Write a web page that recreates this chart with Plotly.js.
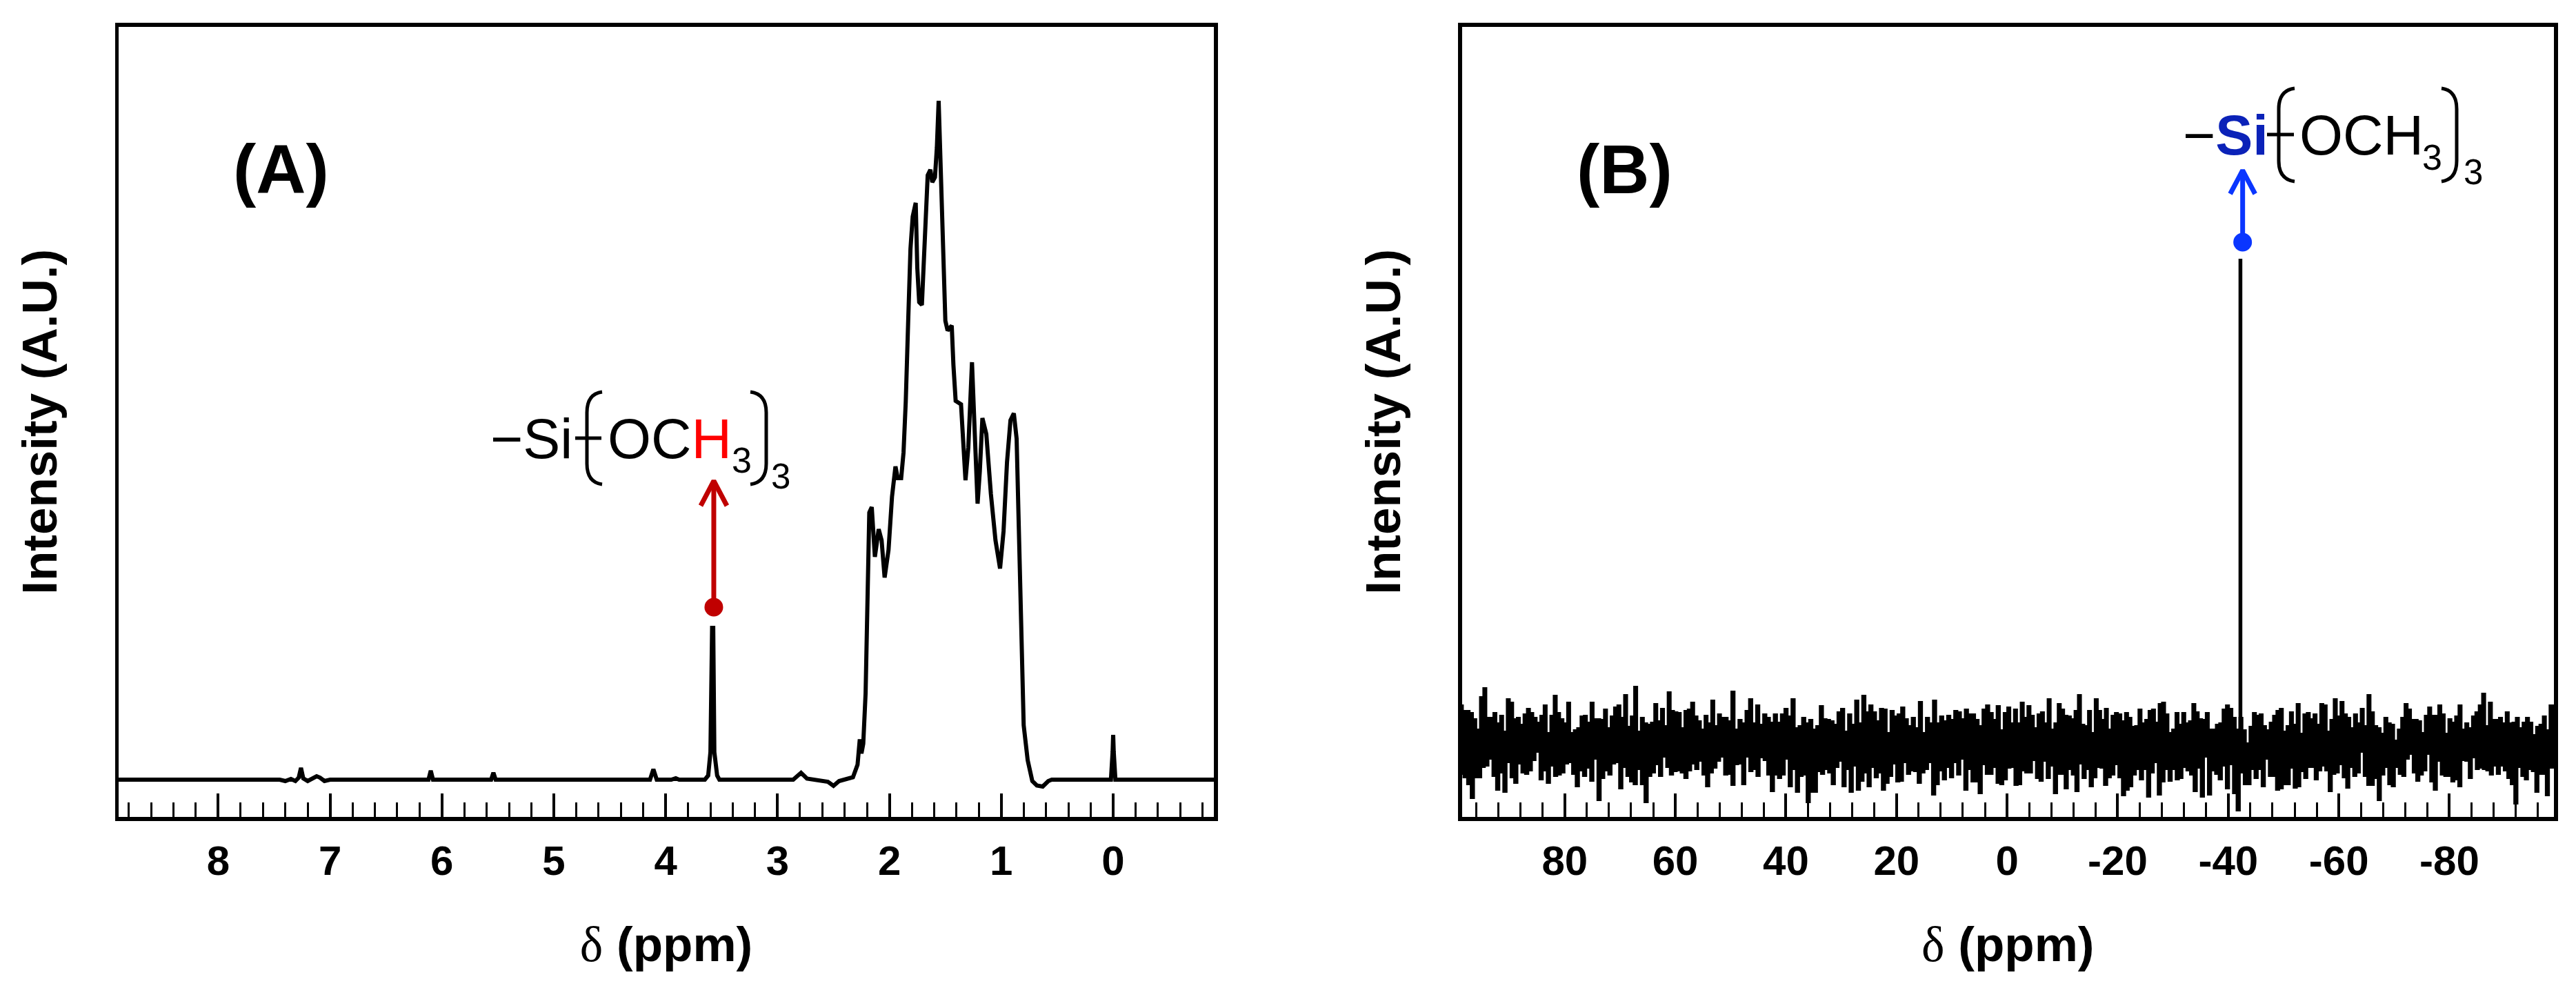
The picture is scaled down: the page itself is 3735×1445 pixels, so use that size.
<!DOCTYPE html>
<html><head><meta charset="utf-8">
<script src="https://cdn.plot.ly/plotly-3.0.1.min.js"></script>
<style>html,body{margin:0;padding:0;background:#fff}#c{width:3735px;height:1445px}</style></head>
<body><div id="c"></div><script>
const W=3735,H=1445;
// Panel A: 1H spectrum
const ppmA=[8.91,7.45,7.40,7.35,7.31,7.28,7.26,7.24,7.20,7.15,7.12,7.09,7.05,7.0,6.12,6.10,6.08,5.56,5.54,5.52,4.14,4.11,4.08,3.95,3.91,3.88,3.65,3.62,3.60,3.585,3.575,3.565,3.54,3.52,
2.90,2.86,2.79,2.737,2.55,2.50,2.45,2.326,2.285,2.265,2.25,2.234,2.213,2.193,2.18,2.158,2.13,2.096,2.07,2.043,2.008,1.977,1.946,1.926,1.895,1.874,1.854,1.833,1.812,1.792,1.765,1.751,1.734,1.71,1.69,1.658,1.634,1.617,1.593,1.576,1.56,1.541,1.521,1.50,1.48,1.443,1.428,1.408,1.36,1.34,1.32,1.295,1.262,1.237,1.212,1.192,1.169,1.134,1.093,1.052,1.011,0.98,0.949,0.918,0.888,0.863,0.847,0.83,0.816,0.80,0.764,0.723,0.682,0.63,0.58,0.549,0.086,0.02,0.005,0,-0.005,-0.02,-0.92];
const intA=[0,0,-2,1,-2,3,17,2,-2,2,5,3,-2,0,0,13,0,0,10,0,0,15,0,0,2,0,0,6,40,220,220,40,6,0,
0,0,10,1.5,-3,-9,-2,3.5,21.6,58.5,38,52,125,259,387,395,323,363,347,293,333,410,454,437,437,474,548,661,769,816,836,742,692,688,755,876,884,866,873,916,984,896,762,665,651,658,601,549,544,494,434,481,605,501,400,447,524,501,414,347,306,360,460,521,531,494,393,293,166,79,28,-2,-8.5,-10,-2,0,0,0,40,65,40,0,0];
// Panel B: 29Si spectrum, upper and lower edge of the noise band per stretch
const segPpm=[99,49.9,0,-49.9,-99.3];
const top1=[58,50,50,47,38,23,70,83,40,40,47,32,43,20,67,62,38,40,30,45,53,47,40,33,43,58,18,43,72,47,38,32,62,18,22,25,42,43,33,62,38,38,37,52,25,42,55,58,40,73,27,42,85,20,40,32,30,33,60,35,53,28,77,50,48,47,25,50,52,62,42,35,23,43,32,65,28,45,40,40,35];
const bot1=[-42,-42,-47,-57,-77,-47,-47,-32,-30,-20,-45,-65,-40,-68,-25,-47,-55,-27,-40,-42,-37,-22,-10,-50,-37,-55,-30,-45,-43,-40,-27,-25,-42,-60,-37,-45,-33,-52,-20,-80,-48,-37,-43,-27,-25,-63,-32,-45,-53,-57,-35,-57,-83,-45,-40,-28,-45,-17,-32,-43,-38,-37,-40,-48,-37,-27,-35,-23,-43,-60,-40,-33,-23,-17,-43];
const top2=[78,23,37,32,50,67,32,58,30,45,40,33,45,33,45,53,42,67,25,28,40,32,37,23,28,57,38,37,35,30,48,53,20,45,30,65,32,72,48,58,48,35,53,52,18,50,42,45,55,38,28,40,25,63,18,40,32,65,32,42,35,43,37,50,48,38,52,45,45,37,28,52,58,47,37,57,22,47];
const bot2=[-42,-58,-28,-27,-57,-17,-38,-35,-45,-18,-22,-43,-67,-43,-48,-43,-20,-60,-35,-68,-45,-43,-83,-68,-68,-38,-42,-35,-40,-57,-32,-23,-60,-35,-68,-30,-65,-52,-40,-60,-32,-47,-40,-65,-55,-45,-27,-53,-52,-25,-42,-37,-38,-55,-40,-35,-25,-72,-57,-37,-50,-32,-47,-25,-43,-20,-65,-35,-53,-53,-70,-28,-42,-42,-32,-55,-57];
const top3=[55,32,52,32,62,40,57,43,25,45,48,32,67,23,32,60,52,43,42,38,50,73,30,28,50,18,67,50,37,53,23,43,47,45,35,47,40,27,28,52,32,37,50,52,33,60,62,45,18,23,47,30,47,32,35,60,48,38,37,47,23,23,30,32,52,58,53,40,23,40,22,3,27,47,43,45,28,22,33,43,50,53];
const bot3=[-50,-33,-32,-58,-57,-37,-40,-40,-22,-48,-52,-23,-48,-30,-70,-42,-42,-63,-35,-43,-67,-27,-48,-35,-60,-47,-32,-33,-58,-47,-43,-28,-47,-73,-65,-60,-43,-35,-50,-35,-75,-40,-25,-72,-53,-35,-52,-35,-50,-48,-32,-37,-43,-67,-33,-75,-17,-72,-37,-42,-50,-30,-63,-28,-70,-95,-40,-57,-57,-35,-48,-35,-60,-20,-45,-45,-65];
const top4=[20,28,48,30,60,17,45,47,38,45,30,60,58,20,37,67,42,63,45,40,25,45,32,53,28,73,48,28,25,17,40,32,30,7,23,40,60,52,37,37,35,18,43,55,43,43,58,45,17,38,33,42,58,23,32,25,42,48,58,75,28,62,37,37,40,32,48,32,33,40,25,33,40,33,15,27,30,42,22,58,58];
const bot4=[-63,-57,-57,-33,-62,-60,-38,-48,-32,-32,-50,-37,-30,-37,-67,-42,-40,-28,-47,-62,-32,-45,-40,-10,-45,-58,-58,-48,-80,-43,-32,-57,-60,-32,-42,-45,-20,-13,-40,-52,-43,-37,-13,-53,-65,-23,-43,-45,-45,-53,-50,-60,-22,-23,-48,-18,-35,-33,-35,-37,-43,-30,-42,-30,-37,-48,-57,-85,-32,-45,-50,-35,-38,-68,-42,-42,-73,-33];
const peakPpmB=[-42.2,-42.2];
const peakIntB=[0,705];
const dotA=[3.57,250], dotB=[-42.6,729];
const arrowAx=[3.57,3.57,null,3.687,3.57,3.453], arrowAy=[250,433,null,397,433,397];
const arrowBx=[-42.6,-42.6,null,-40.35,-42.6,-44.85], arrowBy=[729,833,null,799,833,799];
const ticksA=[8,7,6,5,4,3,2,1,0];
const ticksB=[80,60,40,20,0,-20,-40,-60,-80];
const ticktextB=['80','60','40','20','0','-20','-40','-60','-80'];

function edge(lists){
  const xs=[],ys=[];
  lists.forEach((l,s)=>{const a=segPpm[s],b=segPpm[s+1];
    l.forEach((v,i)=>{xs.push(a+(b-a)*i/l.length);ys.push(v);});});
  xs.push(segPpm[4]);ys.push(lists[3][lists[3].length-1]);
  return [xs,ys];
}
const [tx,ty]=edge([top1,top2,top3,top4]);
const [bx,by]=edge([bot1,bot2,bot3,bot4]);
const polyX=tx.concat(bx.slice().reverse(),[tx[0]]);
const polyY=ty.concat(by.slice().reverse(),[ty[0]]);

const px=x=>x/W, py=y=>1-y/H;
const SANS='Liberation Sans';
const traces=[
 {x:ppmA,y:intA,mode:'lines',line:{color:'#000',width:6},xaxis:'x',yaxis:'y',hoverinfo:'skip'},
 {x:arrowAx,y:arrowAy,mode:'lines',line:{color:'#c00000',width:7},xaxis:'x',yaxis:'y'},
 {x:[dotA[0]],y:[dotA[1]],mode:'markers',marker:{color:'#c00000',size:27},xaxis:'x',yaxis:'y'},
 {x:polyX,y:polyY,mode:'lines',fill:'toself',fillcolor:'#000',line:{color:'#000',width:2.2,shape:'hv'},xaxis:'x2',yaxis:'y2'},
 {x:peakPpmB,y:peakIntB,mode:'lines',line:{color:'#000',width:5.5},xaxis:'x2',yaxis:'y2'},
 {x:arrowBx,y:arrowBy,mode:'lines',line:{color:'#0a36ff',width:7},xaxis:'x2',yaxis:'y2'},
 {x:[dotB[0]],y:[dotB[1]],mode:'markers',marker:{color:'#0a36ff',size:27},xaxis:'x2',yaxis:'y2'}
];
const tickFont={family:SANS,size:60,color:'#000',weight:'bold'};
const titleFont={family:SANS,size:71,color:'#000',weight:'bold'};
const deltaTitle="<span style='font-family:Liberation Serif;font-weight:normal'>δ</span> (ppm)";
function xa(dom,range,vals,text,minor,anchor){return {domain:dom,range:range,anchor:anchor,showgrid:false,zeroline:false,showline:true,mirror:true,linecolor:'#000',linewidth:5.5,
  tickmode:'array',tickvals:vals,ticktext:text,ticks:'inside',ticklen:34,tickwidth:4,tickcolor:'#000',tickfont:tickFont,ticklabelstandoff:6,
  minor:{dtick:minor,tick0:0,ticks:'inside',ticklen:21,tickwidth:3,tickcolor:'#000',showgrid:false},
  title:{text:deltaTitle,font:titleFont,standoff:66}};}
function ya(range,anchor){return {domain:[1-1184/H,1-38.7/H],range:range,anchor:anchor,showgrid:false,zeroline:false,showline:true,mirror:true,linecolor:'#000',linewidth:5.5,
  ticks:'',showticklabels:false,title:{text:'Intensity (A.U.)',font:titleFont,standoff:62}};}
function txt(text,x,y,size,opt){return Object.assign({xref:'paper',yref:'paper',x:px(x),y:py(y),text:text,showarrow:false,xanchor:'left',yanchor:'middle',borderpad:0,font:{family:SANS,size:size,color:'#000'}},opt||{});}
function path(d,w){return {type:'path',xref:'paper',yref:'paper',path:d,line:{color:'#000',width:w||5},fillcolor:'rgba(0,0,0,0)'};}
function P(x,y){return px(x)+','+py(y);}
function brackets(lx,rx,t,b){const l=lx[0],lc=lx[1],r=rx[0],rc=rx[1];return [
 path(`M${P(l,t)} Q${P(lc,t+3)} ${P(lc,t+30)} L${P(lc,b-30)} Q${P(lc,b-3)} ${P(l,b)}`),
 path(`M${P(r,t)} Q${P(rc,t+3)} ${P(rc,t+30)} L${P(rc,b-30)} Q${P(rc,b-3)} ${P(r,b)}`)];}
const layout={width:W,height:H,margin:{l:0,r:0,t:0,b:0},paper_bgcolor:'#fff',plot_bgcolor:'#fff',showlegend:false,
 xaxis:xa([172/W,1760/W],[8.89,-0.90],ticksA,ticksA.map(String),0.2,'y'),
 yaxis:ya([-54,1091.3],'x'),
 xaxis2:xa([2119.5/W,3703/W],[98.62,-98.9],ticksB,ticktextB,4,'y2'),
 yaxis2:ya([-104,1041.3],'x2'),
 shapes:[].concat(
  brackets([873,851],[1088,1111],568,702),
  [path(`M${P(834,635)} L${P(872,635)}`)],
  brackets([3327,3304],[3540,3562],128,263),
  [path(`M${P(3287,195)} L${P(3326,195)}`)]),
 annotations:[
  txt('(A)',407,245,100,{xanchor:'center',font:{family:SANS,size:100,color:'#000',weight:'bold'}}),
  txt('(B)',2355,245,100,{xanchor:'center',font:{family:SANS,size:100,color:'#000',weight:'bold'}}),
  txt('−Si',710,636,81),
  txt("OC<span style='color:#ff0000'>H</span>",880,636,81),
  txt('3',1060,667,52),
  txt('3',1117,690,51),
  txt("−<span style='color:#0b22b8;font-weight:bold'>Si</span>",3164,196,81),
  txt('OCH',3333,196,81),
  txt('3',3511,228,52),
  txt('3',3571,250,51)
 ]};
Plotly.newPlot('c',traces,layout,{staticPlot:true,displayModeBar:false});
</script></body></html>
